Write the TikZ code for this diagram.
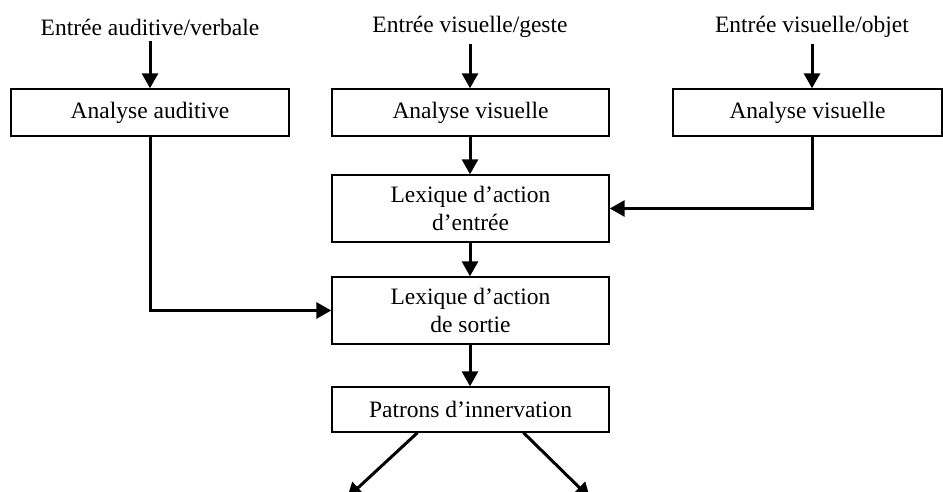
\documentclass[tikz,border=0pt]{standalone}
\usepackage{fontspec}
\setmainfont{Liberation Serif}
\usepackage{tikz}
\usetikzlibrary{shapes, arrows, positioning, arrows.meta}

\begin{document}
\begin{tikzpicture}[x=1pt, y=-1pt,
        font=\fontsize{23.5}{28}\selectfont,
        boite/.style={draw, line width=1.4pt, minimum height=47pt, align=center, inner sep=2pt},
        entree/.style={inner xsep=2pt, inner ysep=6pt},
        fleche/.style={-{Triangle[width=16pt, length=15pt]}, line width=3pt}]
        \useasboundingbox (0,0) rectangle (943,492);
        % Entrées
        \node[entree] (inAud) at (150,27) {Entrée auditive/verbale};
        \node[entree] (inGes) at (470,27) {Entrée visuelle/geste};
        \node[entree] (inObj) at (812,27) {Entrée visuelle/objet};
        % Analyses
        \node[boite, minimum width=278pt] (anaAud) at (150,112.5) {Analyse auditive};
        \node[boite, minimum width=277pt] (anaVis) at (470.5,112.5) {Analyse visuelle};
        \node[boite, minimum width=269pt] (anaObj) at (807.5,112.5) {Analyse visuelle};
        % Lexiques
        \node[boite, minimum width=277pt, minimum height=67pt] (lexIn) at (470.5,208.5) {Lexique d’action\\d’entrée};
        \node[boite, minimum width=277pt, minimum height=67pt] (lexOut) at (470.5,310.5) {Lexique d’action\\de sortie};
        \node[boite, minimum width=277pt, minimum height=45pt] (patrons) at (470.5,409.5) {Patrons d’innervation};
        % Sorties
        \coordinate (outL) at (347,498);
        \coordinate (outR) at (590,498);
        % Flèches
        \draw[fleche] (inAud.south) -- (anaAud.north);
        \draw[fleche] (inGes.south) -- (inGes.south |- anaVis.north);
        \draw[fleche] (inObj.south) -- (inObj.south |- anaObj.north);
        \draw[fleche] (anaVis.south -| inGes.south) -- (inGes.south |- lexIn.north);
        \draw[fleche] (anaObj.south -| inObj.south) |- (lexIn.east);
        \draw[fleche] (lexIn.south -| inGes.south) -- (inGes.south |- lexOut.north);
        \draw[fleche] (anaAud.south) |- (lexOut.west);
        \draw[fleche] (lexOut.south -| inGes.south) -- (inGes.south |- patrons.north);
        \draw[fleche] ([xshift=-53pt]patrons.south) -- (outL);
        \draw[fleche] ([xshift=53pt]patrons.south) -- (outR);
\end{tikzpicture}
\end{document}
